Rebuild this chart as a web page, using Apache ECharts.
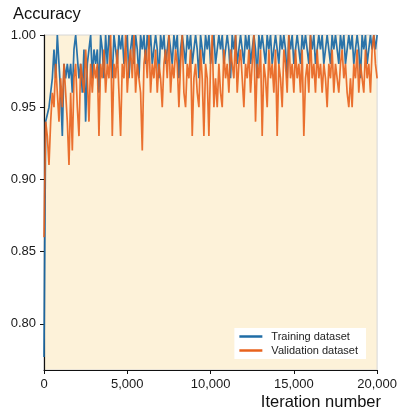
<!DOCTYPE html>
<html>
<head>
<meta charset="utf-8">
<script src="https://cdn.jsdelivr.net/npm/echarts@6/dist/echarts.min.js"></script>
<style>html,body{margin:0;padding:0;background:#fff}#c{width:400px;height:411px}</style>
</head>
<body>
<div id="c"></div>
<script>
// Iterations are sampled every 100 steps from 0 to 20,000
const iterationStep = 100;
const yTickValues = [0.80, 0.85, 0.90, 0.95, 1.00];
const xTickValues = [0, 5000, 10000, 15000, 20000];
const seriesNames = ['Training dataset', 'Validation dataset'];

const training = [
  0.777,
  0.94,0.94,0.95,0.95,0.97,0.99,0.97,1.00,0.98,0.96,
  0.93,0.98,0.97,0.98,0.97,0.98,0.96,0.99,1.00,1.00,
  0.97,0.98,0.96,0.99,0.94,0.98,0.99,1.00,0.97,0.99,
  0.98,0.99,0.96,1.00,0.99,0.97,1.00,0.98,1.00,0.99,
  0.97,1.00,0.99,0.98,1.00,0.99,1.00,0.98,0.99,1.00,
  0.97,0.99,1.00,0.98,1.00,0.99,0.97,1.00,0.99,1.00,
  0.98,1.00,0.99,1.00,0.98,0.99,1.00,0.99,0.97,1.00,
  0.99,1.00,0.98,0.99,1.00,0.99,0.98,1.00,0.99,1.00,
  0.97,0.99,1.00,0.99,0.98,1.00,0.99,1.00,0.98,0.99,
  1.00,0.99,0.97,1.00,0.99,0.98,1.00,0.99,1.00,0.98,
  0.99,1.00,0.98,0.99,1.00,0.99,1.00,0.98,0.99,1.00,
  0.99,0.97,1.00,0.99,1.00,0.98,0.99,1.00,0.99,0.98,
  1.00,0.99,1.00,0.98,0.99,1.00,0.99,0.97,1.00,0.99,
  1.00,0.99,0.98,1.00,0.99,1.00,0.98,0.99,1.00,0.99,
  0.98,1.00,0.99,1.00,0.99,0.97,1.00,0.99,1.00,0.98,
  0.99,1.00,0.99,0.98,1.00,0.99,1.00,0.99,0.98,1.00,
  0.99,1.00,0.98,0.99,1.00,0.99,1.00,0.98,0.99,1.00,
  0.99,0.98,1.00,0.99,1.00,0.99,0.98,1.00,0.99,1.00,
  0.98,0.99,1.00,0.99,1.00,0.98,0.99,1.00,0.99,0.97,
  1.00,0.99,1.00,0.98,0.99,1.00,0.99,1.00,0.99,1.00
];

const validation = [
  0.86,
  0.94,0.93,0.91,0.94,0.96,0.95,0.98,0.96,0.94,0.97,
  0.95,0.98,0.96,0.94,0.91,0.96,0.92,0.97,0.98,0.95,
  0.93,0.98,0.98,0.96,0.99,0.97,0.94,0.98,0.96,0.98,
  0.97,0.98,0.93,0.98,0.97,0.99,0.96,0.98,0.97,1.00,
  0.93,0.98,0.97,0.99,0.96,0.93,0.98,0.97,1.00,0.96,
  0.98,0.99,0.97,1.00,0.96,0.98,0.97,0.96,0.92,0.98,
  0.99,0.97,1.00,0.96,0.98,0.97,0.99,0.96,0.98,0.97,
  0.95,0.98,0.99,0.97,1.00,0.96,0.98,0.97,0.99,0.98,
  0.95,0.98,1.00,0.96,0.95,0.98,0.97,0.99,0.93,0.97,
  0.98,0.96,0.95,0.99,0.97,0.93,0.98,0.97,0.93,0.98,
  1.00,0.95,0.97,0.95,0.98,0.96,0.95,0.99,0.97,0.98,
  0.96,0.99,0.98,0.97,1.00,0.96,0.98,0.99,0.97,0.95,
  0.98,0.97,0.99,0.96,0.98,1.00,0.94,0.98,0.97,0.99,
  0.93,0.98,0.97,0.95,0.99,0.97,0.98,0.96,0.99,0.93,
  0.98,0.97,0.95,0.99,0.98,0.96,1.00,0.97,0.98,0.96,
  0.99,0.97,0.98,0.96,0.99,0.93,0.97,0.98,0.96,1.00,
  0.97,0.98,0.96,0.99,0.97,0.98,0.96,0.98,0.97,0.95,
  0.98,0.97,0.99,0.96,0.98,0.97,0.96,0.98,0.99,0.97,
  0.98,0.96,0.95,0.97,0.95,0.98,0.97,0.99,0.96,0.98,
  0.97,0.96,0.99,0.97,0.98,0.96,0.99,1.00,0.98,0.97
];

const toPairs = arr => arr.map((v, i) => [i * iterationStep, v]);
const FONT = '"Liberation Sans", Arial, sans-serif';

const chart = echarts.init(document.getElementById('c'), null, {renderer: 'canvas'});
chart.setOption({
  animation: false,
  backgroundColor: '#ffffff',
  grid: {
    left: 44, right: 20, top: 35, bottom: 41,
    show: true, backgroundColor: '#FDF2D9', borderColor: '#d6d6d6', borderWidth: 1
  },
  xAxis: {
    type: 'value', min: 0, max: 20000, interval: 5000,
    axisLine: {show: true, onZero: false, lineStyle: {color: '#111', width: 1.2}},
    axisTick: {show: true, length: 4, lineStyle: {color: '#111'}},
    splitLine: {show: false},
    axisLabel: {
      color: '#1a1a1a', fontFamily: FONT, fontSize: 13, margin: 8,
      formatter: v => v.toLocaleString('en-US')
    }
  },
  yAxis: {
    type: 'value', min: 0.768, max: 1.0,
    axisLine: {show: true, lineStyle: {color: '#111', width: 1.2}},
    axisTick: {show: true, length: 4, lineStyle: {color: '#111'}, customValues: yTickValues},
    splitLine: {show: false},
    axisLabel: {
      color: '#1a1a1a', fontFamily: FONT, fontSize: 13, margin: 8,
      customValues: yTickValues,
      formatter: v => v.toFixed(2)
    }
  },
  legend: {
    orient: 'vertical', right: 34, bottom: 52,
    backgroundColor: '#ffffff', padding: [3, 8, 3, 5],
    itemWidth: 23, itemHeight: 2.5, itemGap: 3, icon: 'rect',
    textStyle: {color: '#222', fontFamily: FONT, fontSize: 11, padding: [0, 0, 0, 4]},
    data: seriesNames
  },
  graphic: [
    {type: 'text', left: 13, top: 6, style: {text: 'Accuracy', font: '16.5px ' + FONT, fill: '#111'}},
    {type: 'text', right: 19, top: 394, style: {text: 'Iteration number', font: '16.5px ' + FONT, fill: '#111'}}
  ],
  series: [
    {
      name: seriesNames[0], type: 'line', data: toPairs(training),
      showSymbol: false, symbol: 'none', color: '#1F6CA6',
      lineStyle: {width: 1.7, color: '#1F6CA6', opacity: 0.95}, z: 2
    },
    {
      name: seriesNames[1], type: 'line', data: toPairs(validation),
      showSymbol: false, symbol: 'none', color: '#E8621C',
      lineStyle: {width: 1.7, color: '#E8621C', opacity: 0.9}, z: 3
    }
  ]
});
</script>
</body>
</html>
